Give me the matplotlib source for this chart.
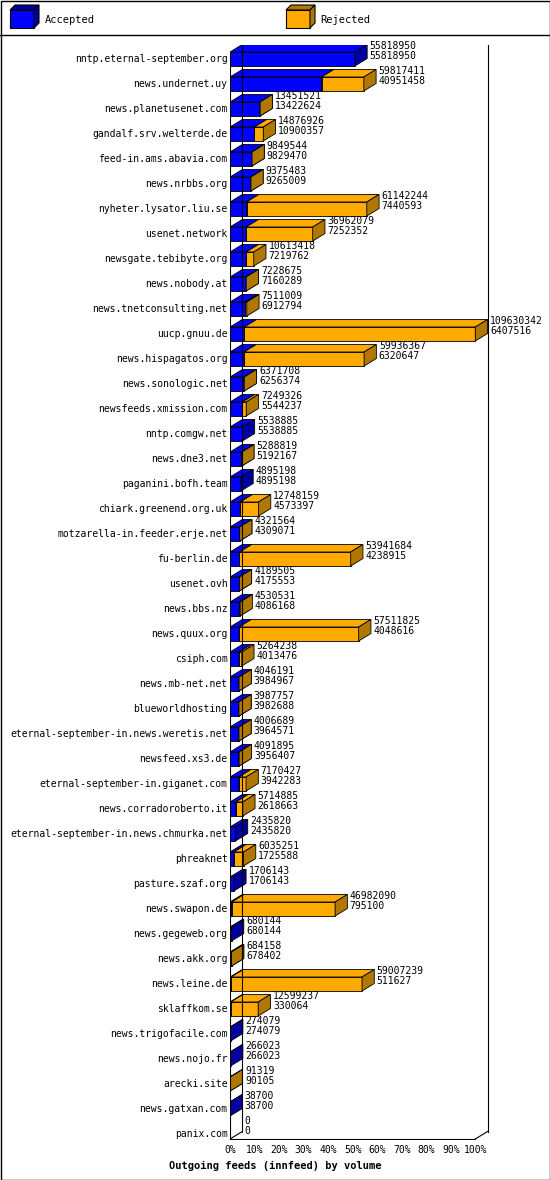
import matplotlib
matplotlib.use("Agg")
import matplotlib.pyplot as plt
from matplotlib.patches import Polygon, Rectangle

names = ["nntp.eternal-september.org","news.undernet.uy","news.planetusenet.com","gandalf.srv.welterde.de",
"feed-in.ams.abavia.com","news.nrbbs.org","nyheter.lysator.liu.se","usenet.network","newsgate.tebibyte.org",
"news.nobody.at","news.tnetconsulting.net","uucp.gnuu.de","news.hispagatos.org","news.sonologic.net",
"newsfeeds.xmission.com","nntp.comgw.net","news.dne3.net","paganini.bofh.team","chiark.greenend.org.uk",
"motzarella-in.feeder.erje.net","fu-berlin.de","usenet.ovh","news.bbs.nz","news.quux.org","csiph.com",
"news.mb-net.net","blueworldhosting","eternal-september-in.news.weretis.net","newsfeed.xs3.de",
"eternal-september-in.giganet.com","news.corradoroberto.it","eternal-september-in.news.chmurka.net",
"phreaknet","pasture.szaf.org","news.swapon.de","news.gegeweb.org","news.akk.org","news.leine.de",
"sklaffkom.se","news.trigofacile.com","news.nojo.fr","arecki.site","news.gatxan.com","panix.com"]
offered = [55818950,59817411,13451521,14876926,9849544,9375483,61142244,36962079,10613418,7228675,7511009,
109630342,59936367,6371708,7249326,5538885,5288819,4895198,12748159,4321564,53941684,4189505,4530531,
57511825,5264238,4046191,3987757,4006689,4091895,7170427,5714885,2435820,6035251,1706143,46982090,680144,
684158,59007239,12599237,274079,266023,91319,38700,0]
accepted = [55818950,40951458,13422624,10900357,9829470,9265009,7440593,7252352,7219762,7160289,6912794,
6407516,6320647,6256374,5544237,5538885,5192167,4895198,4573397,4309071,4238915,4175553,4086168,4048616,
4013476,3984967,3982688,3964571,3956407,3942283,2618663,2435820,1725588,1706143,795100,680144,678402,
511627,330064,274079,266023,90105,38700,0]
ticks = [0,10,20,30,40,50,60,70,80,90,100]

W, H = 550, 1180
fig = plt.figure(figsize=(W/100, H/100), dpi=100)
mono = "DejaVu Sans Mono"
fig.patches.append(Rectangle((0.5/W, 0.5/H), 1-1/W, 1-1/H, transform=fig.transFigure, fill=False, ec="black", lw=1))
fig.lines.append(plt.Line2D([0,1],[1-35/H,1-35/H], transform=fig.transFigure, color="black", lw=1))
def cube(x, y, w, h, c1, c2):
    d = 5
    pts_front = [(x,y),(x+w,y),(x+w,y+h),(x,y+h)]
    top = [(x,y+h),(x+w,y+h),(x+w+d,y+h+d),(x+d,y+h+d)]
    side = [(x+w,y),(x+w+d,y+d),(x+w+d,y+h+d),(x+w,y+h)]
    for p, c in ((pts_front,c1),(top,c2),(side,c2)):
        fig.patches.append(Polygon([(a/W,b/H) for a,b in p], closed=True, transform=fig.transFigure, fc=c, ec="black", lw=0.8))
cube(10, H-28, 24, 18, "#0000ff", "#0000a0")
fig.text(45/W, 1-20/H, "Accepted", family=mono, fontsize=7.5, va="center")
cube(286, H-28, 24, 18, "#ffaa00", "#b07800")
fig.text(320/W, 1-20/H, "Rejected", family=mono, fontsize=7.5, va="center")

ax = fig.add_axes([230/W, (H-1140)/H, 260/W, (1140-45)/H])
n = len(names)
ybot, ytop = n-1+0.24, -0.56
ax.set_xlim(0, 1.06)
ax.set_ylim(ybot, ytop)
for s in ax.spines.values(): s.set_visible(False)
ax.set_xticks([]); ax.set_yticks([])
mx = max(offered)
dx, dy, bh = 0.05, 0.3, 0.56
BLUE, BLUE2, OR, OR2 = "#0000ff", "#0000a0", "#ffaa00", "#b07800"
fl = ybot-0.04
ax.plot([dx, dx], [ytop, fl-dy], color="black", lw=0.8)
ax.plot([1.0+dx, 1.0+dx], [ytop, fl-dy], color="black", lw=0.8)
ax.plot([0, 0], [ytop+dy, fl], color="black", lw=0.8)
ax.plot([0, 1.0], [fl, fl], color="black", lw=0.8)
ax.plot([0, dx], [fl, fl-dy], color="black", lw=0.8)
ax.plot([1.0, 1.0+dx], [fl, fl-dy], color="black", lw=0.8)
for t in ticks:
    ax.text(t/100, fl+0.25, f"{t}%", family=mono, fontsize=7, ha="center", va="top", clip_on=False)
def bar3d(i, x0, x1, c1, c2):
    yb, yt = i+bh/2, i-bh/2
    ax.add_patch(Polygon([(x0,yb),(x1,yb),(x1,yt),(x0,yt)], fc=c1, ec="black", lw=0.6))
    ax.add_patch(Polygon([(x0,yt),(x1,yt),(x1+dx,yt-dy),(x0+dx,yt-dy)], fc=c1, ec="black", lw=0.6))
    ax.add_patch(Polygon([(x1,yb),(x1+dx,yb-dy),(x1+dx,yt-dy),(x1,yt)], fc=c2, ec="black", lw=0.6))
for i in range(n):
    a = accepted[i]/mx; o = offered[i]/mx
    if o > 0:
        if a > 0: bar3d(i, 0, a, BLUE, BLUE2)
        if o > a: bar3d(i, a, o, OR, OR2)
    ax.text(o+dx+0.01, i-dy-0.02, f"{offered[i]}\n{accepted[i]}", family=mono, fontsize=7, va="center", ha="left", linespacing=0.95, clip_on=False)
    ax.text(-0.01, i, names[i], family=mono, fontsize=7, ha="right", va="center", clip_on=False)
fig.text(275/W, 1-1166/H, "Outgoing feeds (innfeed) by volume", family=mono, fontsize=7.5, fontweight="bold", ha="center", va="center")
fig.savefig("out.png", dpi=100, facecolor="white")
